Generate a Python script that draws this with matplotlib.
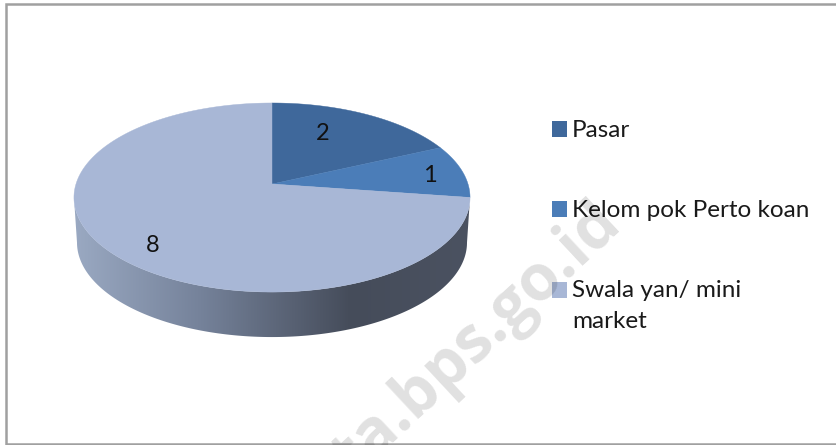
import numpy as np
import matplotlib
matplotlib.use('Agg')
import matplotlib.pyplot as plt
from matplotlib.patches import Patch, Polygon

categories = ['Pasar', 'Kelom pok Perto koan', 'Swala yan/ mini\nmarket']
values = [2, 1, 8]
colors = ['#3F689B', '#4B7DB8', '#A8B7D6']

plt.rcParams['font.family'] = ['Lato', 'DejaVu Sans']

fig = plt.figure(figsize=(8.36, 4.45), dpi=100)
ax = fig.add_axes([0, 0, 1, 1])
ax.set_xlim(0, 836)
ax.set_ylim(445, 0)
ax.axis('off')


# Pie lying on its back, seen in perspective (angle clockwise from 12 o'clock)
def project(theta, cx=272, cy=184, a=196, b=92.6, k=-0.143):
    u, v = np.sin(theta), np.cos(theta)
    d = 1 - k * v
    return cx + a * u / d, cy - b * v / d


# Frame, open on the right like the screenshot
ax.plot([836, 6, 6, 836], [4, 4, 444, 444], color='#A0A0A0', lw=1.8, zorder=1, solid_joinstyle='miter')

# Side of the disc with a horizontal gradient, between the widest points of the rim
t_front = np.linspace(np.radians(98.2), np.radians(261.8), 200)
top_x, top_y = project(t_front)
bot_x, bot_y = project(t_front, a=193, cy=229)
side = Polygon(np.r_[np.c_[top_x, top_y], np.c_[bot_x, bot_y][::-1]], closed=True, transform=ax.transData,
               fc='none', ec='none')
ax.add_patch(side)
side_cmap = matplotlib.colors.LinearSegmentedColormap.from_list(
    'side', [(0, '#9AA9C2'), (0.32, '#75829A'), (0.7, '#454C5A'), (1, '#4B5261')])
im = ax.imshow(np.linspace(0, 1, 256)[None, :], cmap=side_cmap, extent=(74, 470, 345, 190), aspect='auto', zorder=2)
im.set_clip_path(side)
ax.set_xlim(0, 836)
ax.set_ylim(445, 0)

# Top of the pie
start = 0.0
total = sum(values)
for val, col in zip(values, colors):
    end = start + 2 * np.pi * val / total
    xs, ys = project(np.linspace(start, end, 200))
    ax.fill(np.r_[272, xs], np.r_[184, ys], color=col, lw=0.3, zorder=3)
    start = end

# Value labels
for val, lx, ly in zip(values, [323, 430, 153], [133, 175, 246]):
    ax.text(lx, ly, str(val), ha='center', va='center', fontsize=17, color='#111111', zorder=4)

# Legend
handles = [Patch(fc=c, ec='none') for c in colors]
leg = ax.legend(handles, categories, loc='upper left', bbox_to_anchor=(552 / 836, 1 - 120.5 / 445), frameon=False,
                fontsize=17.5, handlelength=0.62, handleheight=0.62, handletextpad=0.2, labelspacing=2.42,
                borderpad=0, borderaxespad=0, labelcolor='#1A1A1A')
leg.set_zorder(5)
for t in leg.get_texts():
    t.set_linespacing(1.6)
# the wrapped entry keeps its square on the first line
leg.get_patches()[2].set_y(12)

# Watermark is a see-through stamp over the chart, cut by the bottom edge
ax.text(477, 340, 'ta.bps.go.id', rotation=43, rotation_mode='anchor', ha='center', va='center',
        fontsize=46, fontweight='bold', family='Open Sans', color='black', alpha=0.12, zorder=6, clip_on=True)

fig.savefig('out.png', dpi=100)
